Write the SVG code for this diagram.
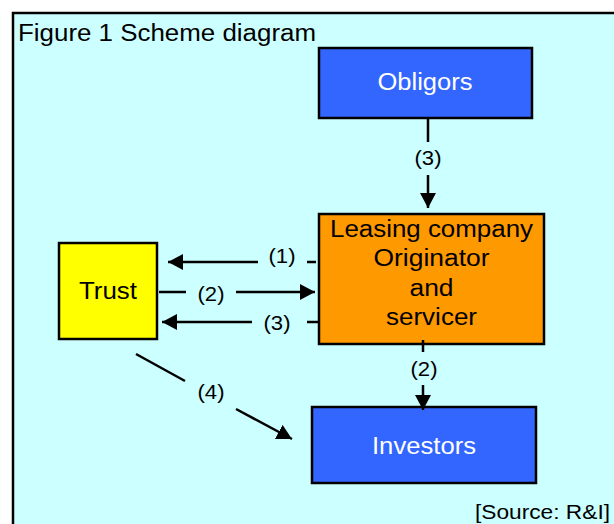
<svg xmlns="http://www.w3.org/2000/svg" width="614" height="524" viewBox="0 0 614 524">
<style>
text{font-family:"Liberation Sans",Arial,sans-serif;}
.box{stroke:#000;stroke-width:2.5;}
.lbl{font-size:23px;text-anchor:middle;}
.cl{font-size:21px;text-anchor:middle;fill:#000;}
.ln{stroke:#000;stroke-width:2.5;fill:none;}
</style>
<defs>
<marker id="ah" markerWidth="16" markerHeight="16" refX="15" refY="8" orient="auto" markerUnits="userSpaceOnUse"><path d="M0,0 L15,8 L0,16 z" fill="#000"/></marker>
</defs>
<rect x="0" y="0" width="614" height="524" fill="#fff"/>
<rect id="frame" x="13" y="13" width="610" height="520" fill="#CCFFFF" stroke="#000" stroke-width="2.5"/>
<text x="18" y="41" font-size="23" textLength="298" lengthAdjust="spacingAndGlyphs">Figure 1 Scheme diagram</text>
<g id="obligors">
<rect class="box" x="319" y="48" width="213" height="70" fill="#3366FF"/>
<text class="lbl" x="425" y="90" fill="#fff" textLength="95" lengthAdjust="spacingAndGlyphs">Obligors</text>
</g>
<g id="leasing">
<rect class="box" x="319" y="214" width="225" height="130" fill="#FF9900"/>
<text class="lbl" x="431.5" y="237" textLength="203" lengthAdjust="spacingAndGlyphs">Leasing company</text>
<text class="lbl" x="431.5" y="266" textLength="116" lengthAdjust="spacingAndGlyphs">Originator</text>
<text class="lbl" x="431.5" y="296" textLength="44" lengthAdjust="spacingAndGlyphs">and</text>
<text class="lbl" x="431.5" y="325" textLength="91" lengthAdjust="spacingAndGlyphs">servicer</text>
</g>
<g id="trust">
<rect class="box" x="59" y="243" width="98" height="96" fill="#FFFF00"/>
<text class="lbl" x="108" y="299" textLength="58" lengthAdjust="spacingAndGlyphs">Trust</text>
</g>
<g id="investors">
<rect class="box" x="312" y="407" width="224" height="76" fill="#3366FF"/>
<text class="lbl" x="424" y="454" fill="#fff" textLength="104" lengthAdjust="spacingAndGlyphs">Investors</text>
</g>
<g id="connectors">
<line class="ln" x1="428" y1="119" x2="428" y2="142"/>
<line class="ln" x1="428" y1="175" x2="428" y2="208" marker-end="url(#ah)"/>
<line class="ln" x1="316" y1="262" x2="307" y2="262"/>
<line class="ln" x1="258" y1="262" x2="168" y2="262" marker-end="url(#ah)"/>
<line class="ln" x1="159" y1="292" x2="186" y2="292"/>
<line class="ln" x1="236" y1="292" x2="315" y2="292" marker-end="url(#ah)"/>
<line class="ln" x1="319" y1="322" x2="307" y2="322"/>
<line class="ln" x1="252" y1="322" x2="162" y2="322" marker-end="url(#ah)"/>
<line class="ln" x1="423" y1="340" x2="423" y2="352"/>
<line class="ln" x1="423" y1="385" x2="423" y2="410" marker-end="url(#ah)"/>
<line class="ln" x1="136" y1="354" x2="185" y2="381"/>
<line class="ln" x1="236" y1="409" x2="292" y2="439" marker-end="url(#ah)"/>
</g>
<g id="labels">
<text class="cl" x="428" y="165" textLength="27" lengthAdjust="spacingAndGlyphs">(3)</text>
<text class="cl" x="282" y="263" textLength="27" lengthAdjust="spacingAndGlyphs">(1)</text>
<text class="cl" x="211" y="301" textLength="27" lengthAdjust="spacingAndGlyphs">(2)</text>
<text class="cl" x="277" y="330" textLength="27" lengthAdjust="spacingAndGlyphs">(3)</text>
<text class="cl" x="424" y="376" textLength="27" lengthAdjust="spacingAndGlyphs">(2)</text>
<text class="cl" x="211" y="399" textLength="27" lengthAdjust="spacingAndGlyphs">(4)</text>
</g>
<text x="475" y="519" font-size="20" textLength="135" lengthAdjust="spacingAndGlyphs">[Source: R&amp;I]</text>
</svg>
